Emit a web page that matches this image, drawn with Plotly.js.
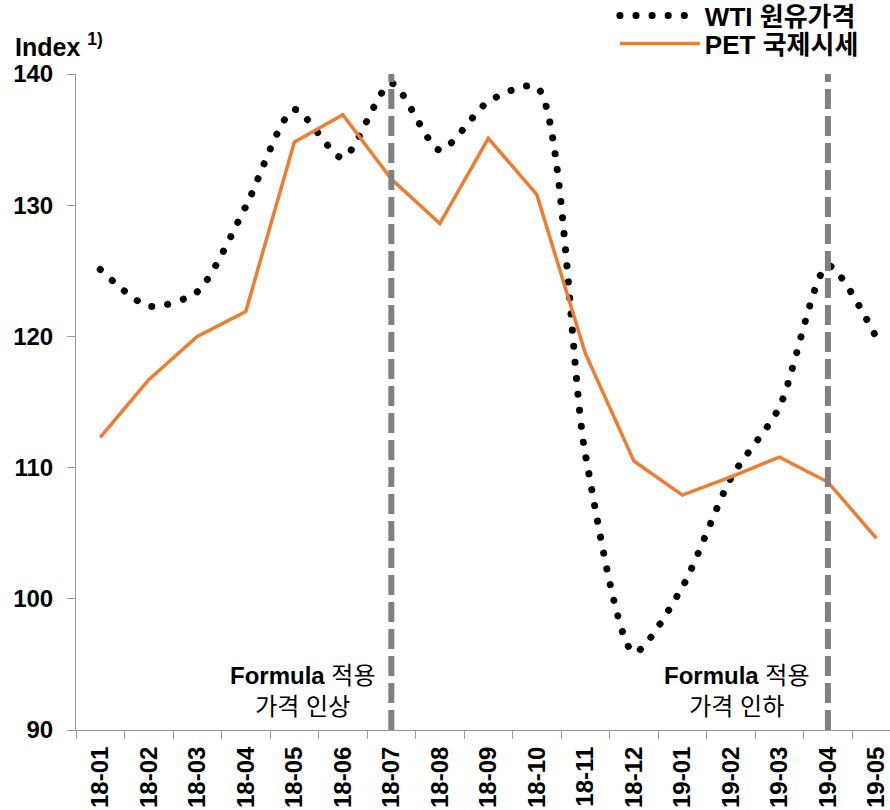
<!DOCTYPE html>
<html>
<head>
<meta charset="utf-8">
<script src="https://cdn.plot.ly/plotly-3.0.1.min.js"></script>
<style>
html,body{margin:0;padding:0;background:#fff;}
#chart{width:890px;height:810px;}
</style>
</head>
<body>
<div id="chart"></div>
<script>
const categories = ['18-01','18-02','18-03','18-04','18-05','18-06','18-07','18-08','18-09','18-10','18-11','18-12','19-01','19-02','19-03','19-04','19-05'];
const wtiValues = [125.1,122.3,123.4,129.9,137.3,133.6,139.3,134.2,137.9,139.0,111.0,95.9,100.9,109.2,114.6,125.4,119.9];
const petValues = [112.3,116.7,120.0,121.9,134.8,136.9,132.0,128.6,135.1,130.8,118.7,110.5,107.9,109.3,110.8,108.9,104.6];
const seriesNames = ['WTI 원유가격','PET 국제시세'];
const eventCats = ['18-07','19-04'];
const eventLabels = ['<b>Formula</b> 적용<br>가격 인상','<b>Formula</b> 적용<br>가격 인하'];
const yTicks = [90,100,110,120,130,140];

const FONT = 'Liberation Sans, Arial, Noto Sans CJK KR, sans-serif';

const traces = [
  {x: categories, y: wtiValues, name: '<b>'+seriesNames[0]+'</b>', type:'scatter', mode:'lines', legend:'legend',
   line:{color:'#000000', width:7, dash:'0.1px,16px', shape:'spline', smoothing:0.7}},
  {x: categories, y: petValues, name: '<b>'+seriesNames[1]+'</b>', type:'scatter', mode:'lines', legend:'legend2',
   line:{color:'#ED7D31', width:3.5}}
];

const shapes = eventCats.map(c => ({
  type:'line', xref:'x', yref:'paper', x0: categories.indexOf(c), x1: categories.indexOf(c), y0:0, y1:1,
  line:{color:'#808080', width:6, dash:'20px,7px'}, layer:'above'
}));

const annotations = eventCats.map((c,i) => ({
  xref:'x', yref:'paper', x: categories.indexOf(c), y: 0.0595, xanchor:'center', yanchor:'middle',
  xshift: i===0 ? -88 : -91, text: eventLabels[i], showarrow:false, align:'center',
  font:{family:FONT, size:24, color:'#000'}
}));
annotations.push({
  xref:'paper', yref:'paper', x:-0.0774, y:1.044, xanchor:'left', yanchor:'middle',
  text:'<b>Index <sup>1)</sup></b>', showarrow:false, font:{family:FONT, size:25, color:'#000'}
});

const legendBase = {xanchor:'left', yanchor:'top', bgcolor:'rgba(0,0,0,0)',
  font:{family:FONT, size:26, color:'#000'}, itemwidth:80};

const layout = {
  width:890, height:810,
  margin:{l:76, r:0, t:74, b:80, autoexpand:false},
  paper_bgcolor:'#fff', plot_bgcolor:'#fff',
  showlegend:true,
  legend: Object.assign({x:0.662, y:1.125}, legendBase),
  legend2: Object.assign({x:0.662, y:1.0823}, legendBase),
  xaxis:{type:'category', range:[-0.5, 16.28], tickson:'boundaries', ticks:'outside', ticklen:8,
    tickcolor:'#999', showline:true, linecolor:'#999', linewidth:1, showgrid:false, zeroline:false,
    tickangle:-90, tickfont:{family:FONT, size:24, color:'#000', weight:'bold'}, ticklabelstandoff:6, fixedrange:true},
  yaxis:{range:[90,140], tickvals:yTicks, ticks:'outside', ticklen:8, tickcolor:'#999',
    showline:true, linecolor:'#999', linewidth:1, showgrid:false, zeroline:false,
    tickfont:{family:FONT, size:24, color:'#000', weight:'bold'}, ticklabelstandoff:9},
  shapes: shapes,
  annotations: annotations
};

Plotly.newPlot('chart', traces, layout, {displayModeBar:false, staticPlot:true}).then(() => {
  document.querySelectorAll('path.js-line').forEach(p => {
    if ((p.style.strokeDasharray || '').indexOf('0.1') === 0) p.style.strokeLinecap = 'round';
  });
});
</script>
</body>
</html>
